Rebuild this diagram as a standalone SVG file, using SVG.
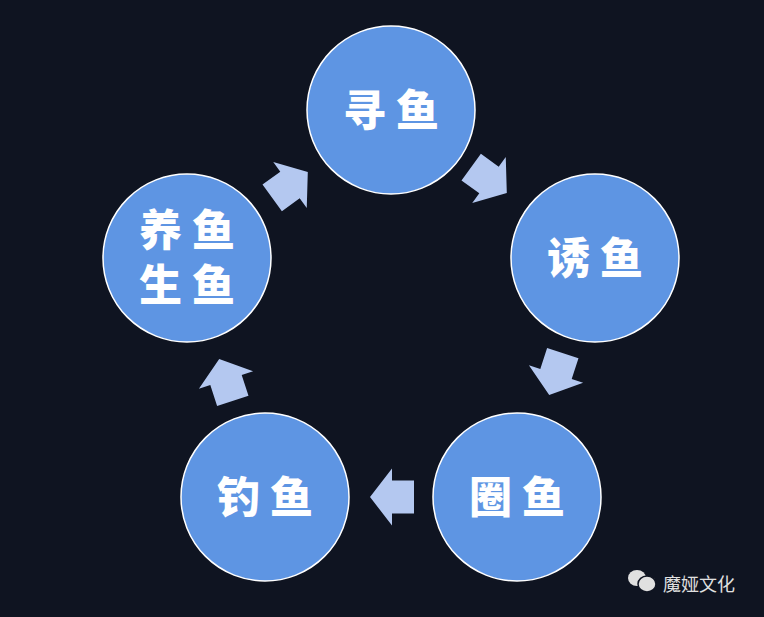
<svg xmlns="http://www.w3.org/2000/svg" width="764" height="617" viewBox="0 0 764 617">
<style>
.n{fill:#5e95e3;stroke:#fff;stroke-width:1.5}
.t{font-family:"Noto Sans CJK SC",sans-serif;font-weight:900;font-size:43px;fill:#fff;text-anchor:middle;letter-spacing:10px}
.a{fill:#b4c8f0}
</style>
<defs>
<polygon id="ar" points="-22,-16.5 0,-16.5 0,-28.5 22,0 0,28.5 0,16.5 -22,16.5"/>
</defs>
<rect width="764" height="617" fill="#0f1421"/>
<g id="connectors" class="a">
<use href="#ar" transform="translate(290,185) rotate(-36)"/>
<use href="#ar" transform="translate(489,180) rotate(36)"/>
<use href="#ar" transform="translate(556,374) rotate(108)"/>
<use href="#ar" transform="translate(392,497) rotate(180)"/>
<use href="#ar" transform="translate(226,380) rotate(-108)"/>
</g>
<g id="n1"><circle class="n" cx="391" cy="110" r="84"/><text class="t" x="396" y="126">寻鱼</text></g>
<g id="n2"><circle class="n" cx="595" cy="258" r="84"/><text class="t" x="600" y="274">诱鱼</text></g>
<g id="n3"><circle class="n" cx="517" cy="497" r="84"/><text class="t" x="522" y="513">圈鱼</text></g>
<g id="n4"><circle class="n" cx="265" cy="497" r="84"/><text class="t" x="270" y="513">钓鱼</text></g>
<g id="n5"><circle class="n" cx="187" cy="258" r="84"/><text class="t" x="192" y="246">养鱼</text><text class="t" x="192" y="301">生鱼</text></g>
<g id="watermark" fill="#e0e0e0">
<ellipse cx="637" cy="578" rx="9" ry="8"/>
<ellipse cx="647" cy="584" rx="9" ry="8" stroke="#0f1421" stroke-width="1.5"/>
<text x="663" y="591" font-family="Noto Sans CJK SC,sans-serif" font-size="18">魔娅文化</text>
</g>
</svg>
